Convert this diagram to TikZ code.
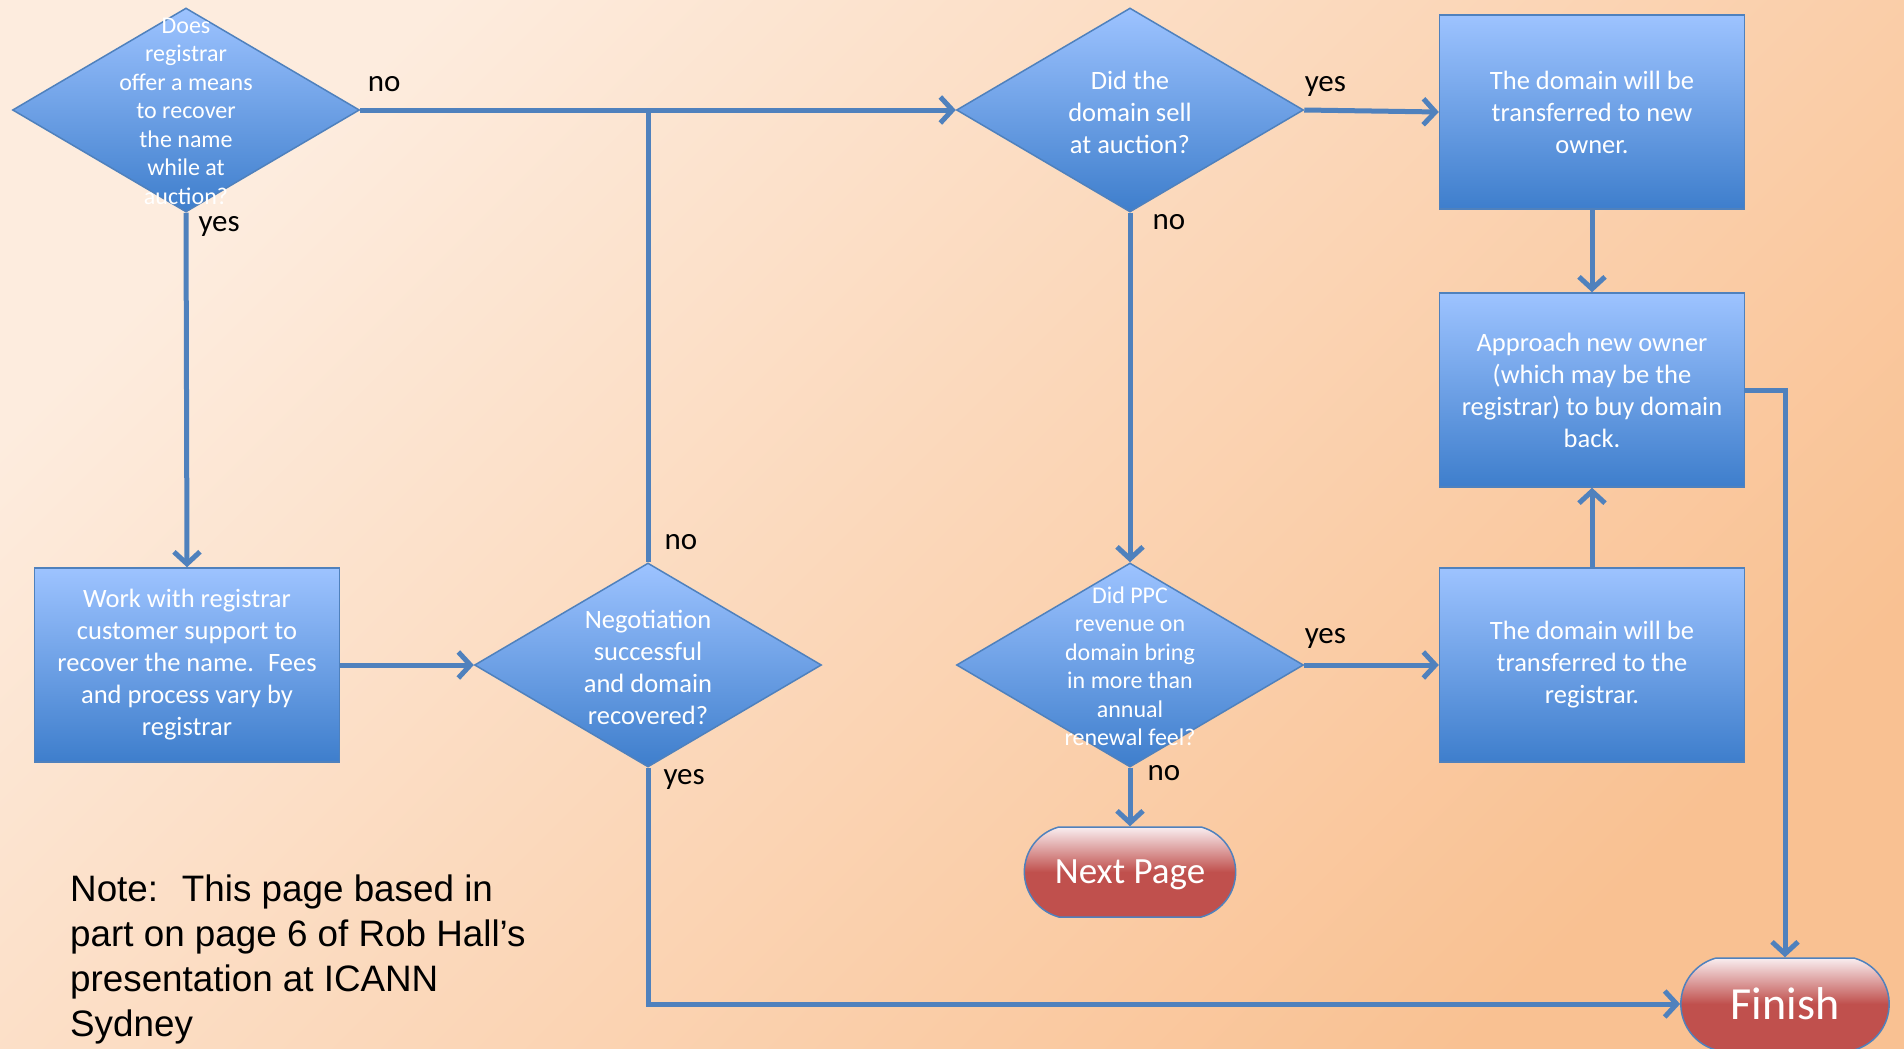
\documentclass[tikz,border=0pt]{standalone}
\usepackage{fontspec}
\setmainfont{Carlito}
\newfontfamily\notefont{Liberation Sans}
\usetikzlibrary{shapes.geometric,shapes.misc,arrows.meta}
\definecolor{bgtop}{RGB}{253,236,222}
\definecolor{bgbot}{RGB}{249,193,146}
\definecolor{boxtop}{RGB}{157,195,255}
\definecolor{boxbot}{RGB}{62,126,204}
\definecolor{edge}{RGB}{79,129,189}
\definecolor{termtop}{RGB}{249,238,240}
\definecolor{termred}{RGB}{192,80,77}
\tikzset{
  shapebox/.style={draw=edge,line width=1.5pt,top color=boxtop,bottom color=boxbot,text=white,align=center},
  decision/.style={shapebox,diamond,inner sep=0pt,minimum width=347pt,minimum height=204pt},
  dtext/.style={text=white,align=center,yshift=-2pt,font=\fontsize{26.5}{32}\selectfont},
  dsmall/.style={dtext,yshift=1pt,font=\fontsize{24}{28.5}\selectfont},
  process/.style={shapebox,rectangle,minimum width=305pt,minimum height=194pt,font=\fontsize{26.5}{32}\selectfont},
  terminal/.style={draw=edge,line width=1.5pt,rounded rectangle,rounded rectangle arc length=150,minimum width=218pt,minimum height=90pt,text depth=0pt,top color=termtop,bottom color=termred,middle color=termred,text=white},
  link/.style={draw=edge,line width=5pt},
  flow/.style={link,-{Straight Barb[length=12pt,width=26pt]}},
  answer/.style={font=\fontsize{31}{36}\selectfont,inner sep=0pt}
}
\begin{document}
\begin{tikzpicture}[x=1pt,y=-1pt]
    \useasboundingbox (0,0) rectangle (1904,1049);
    \shade[top color=bgtop,bottom color=bgbot,shading angle=45] (0,0) rectangle (1904,1049);
    \node[decision,label={[dsmall]center:{Does\\registrar\\offer a means\\to recover\\the name\\while at\\auction?}}] (ask) at (186,110) {};
    \node[decision,label={[dtext]center:{Did the\\domain sell\\at auction?}}] (sold) at (1130,110) {};
    \node[decision,label={[dtext]center:{Negotiation\\successful\\and domain\\recovered?}}] (nego) at (648,665) {};
    \node[decision,label={[dsmall]center:{Did PPC\\revenue on\\domain bring\\in more than\\annual\\renewal feel?}}] (ppc) at (1130,665) {};
    \node[process] (work) at (187,665) {Work with registrar\\customer support to\\recover the name.~ Fees\\and process vary by\\registrar};
    \node[process] (newowner) at (1592,112) {The domain will be\\transferred to new\\owner.};
    \node[process] (approach) at (1592,390) {Approach new owner\\(which may be the\\registrar) to buy domain\\back.};
    \node[process] (toreg) at (1592,665) {The domain will be\\transferred to the\\registrar.};
    \node[terminal,font=\fontsize{37}{44}\selectfont] (nextpage) at (1130,872) {Next Page};
    \node[terminal,minimum width=215pt,minimum height=92pt,font=\fontsize{46}{54}\selectfont] (finish) at (1785,1004) {Finish};
    \node[font=\notefont\fontsize{36.8}{45}\selectfont,align=left,anchor=north west,inner sep=0pt] (note) at (70,875) {Note:~ This page based in\\part on page 6 of Rob Hall’s\\presentation at ICANN\\Sydney};
    \draw[flow] (ask.east) -- node[answer,pos=0,anchor=base west,xshift=5pt,yshift=18pt] (no1) {no} (sold.west);
    \draw[flow] (ask.south) -- node[answer,pos=0,anchor=base west,xshift=10pt,yshift=-19pt] (yes1) {yes} (work.north);
    \draw[flow] (work.east) -- (nego.west);
    \draw[link] (nego.north) -- node[answer,pos=0,anchor=base west,xshift=14pt,yshift=13pt] (no2) {no} (nego.north |- ask.east);
    \draw[flow] (nego.south) |- node[answer,pos=0,anchor=base west,xshift=13pt,yshift=-17pt] (yes2) {yes} (finish.west);
    \draw[flow] (sold.east) -- node[answer,pos=0,anchor=base west,xshift=-2pt,yshift=18pt] (yes3) {yes} (newowner.west);
    \draw[flow] (sold.south) -- node[answer,pos=0,anchor=base west,xshift=20pt,yshift=-17pt] (no3) {no} (ppc.north);
    \draw[flow] (newowner.south) -- (approach.north);
    \draw[flow] (ppc.east) -- node[answer,pos=0,anchor=base west,xshift=-2pt,yshift=22pt] (yes4) {yes} (toreg.west);
    \draw[flow] (toreg.north) -- (approach.south);
    \draw[flow] (ppc.south) -- node[answer,pos=0,anchor=base west,xshift=15pt,yshift=-13pt] (no4) {no} (nextpage.north);
    \draw[flow] (approach.east) -| (finish.north);
\end{tikzpicture}
\end{document}
